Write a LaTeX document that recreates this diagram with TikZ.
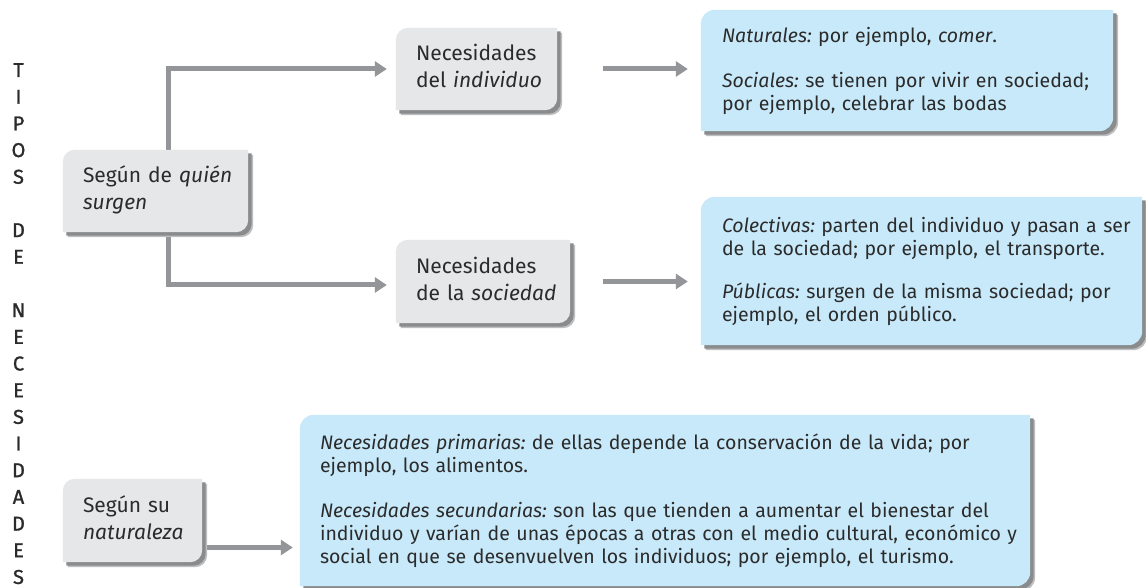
\documentclass[tikz,border=0pt]{standalone}
\usepackage{fontspec}
\setmainfont{Fira Sans}
\newfontfamily\medfont{Fira Sans}[FakeBold=1.2]
\usetikzlibrary{arrows.meta}
\definecolor{boxgray}{HTML}{E6E7E8}
\definecolor{boxblue}{HTML}{C8E9F9}
\definecolor{linegray}{HTML}{939598}
\definecolor{shadowdark}{HTML}{8A8B8D}
\definecolor{shadowlight}{HTML}{BDBEC0}
\definecolor{txt}{HTML}{2B2B2B}
\newcommand\jl[1]{\makebox[\dimexpr\hsize-\leftskip\relax][s]{#1}}
\newcommand\dstrut{\rule[-6pt]{0pt}{6pt}}
\pgfdeclarelayer{paper}
\pgfdeclarelayer{lines}
\pgfdeclarelayer{shapes}
\pgfsetlayers{paper,lines,shapes,main}
\tikzset{
  x=1pt, y=1pt,
  graybox/.style={inner xsep=20pt, inner ysep=0pt, align=left, text=txt,
    font=\fontsize{21}{27}\selectfont,
    execute at begin node={\frenchspacing\hyphenpenalty=10000\relax}},
  bluebox/.style={inner ysep=0pt, align=left, text=txt,
    font=\fontsize{19.5}{23}\selectfont,
    execute at begin node={\frenchspacing\hyphenpenalty=10000 \hbadness=10000 \hfuzz=50pt\relax}},
  letters/.style={inner sep=0pt, align=center, text=txt,
    font=\medfont\fontsize{20}{26.68}\selectfont},
  arr/.style={draw=linegray, line width=5pt, -{Triangle[length=12pt,width=15pt]}},
  card/.style 2 args={insert path={
    (#1.south west) -- ([yshift=-#2]#1.north west)
    arc[start angle=180,end angle=90,radius=#2] -- (#1.north east)
    -- ([yshift=#2]#1.south east)
    arc[start angle=0,end angle=-90,radius=#2] -- cycle}}
}
\begin{document}
\begin{tikzpicture}
\useasboundingbox (0,0) rectangle (1146,588);
\begin{pgfonlayer}{paper}
\fill[white] (0,0) rectangle (1146,588);
\end{pgfonlayer}

% left vertical title
\node[letters, anchor=north] (tipos) at (18.5,525)
  {T\\I\\P\\O\\S\\\mbox{}\\D\\E\\\mbox{}\\N\\E\\C\\E\\S\\I\\D\\A\\D\\E\\S};

% gray boxes
\node[graybox, minimum width=185, minimum height=82, text width=145] (quien) at (155.5,397)
  {\mbox{Según de \textit{quién}}\\\textit{surgen}\dstrut};
\node[graybox, minimum width=161, minimum height=82, text width=121] (ind) at (476.5,519)
  {Necesidades\\\mbox{del \textit{individuo}}\dstrut};
\node[graybox, minimum width=174, minimum height=83, text width=134] (soc) at (483,306.5)
  {Necesidades\\\mbox{de la \textit{sociedad}}\dstrut};
\node[graybox, minimum width=139, minimum height=83, text width=99] (nat) at (132.5,67.5)
  {\mbox{Según su}\\\textit{naturaleza}\dstrut};

% blue boxes
\node[bluebox, inner xsep=21pt, minimum width=412, minimum height=121, text width=370] (b1) at (907,517.5)
  {\textit{Naturales:} por ejemplo, \textit{comer}.\\[22pt]
   \jl{\textit{Sociales:} se tienen por vivir en sociedad;}\\
   por ejemplo, celebrar las bodas};
\node[bluebox, inner xsep=13pt, minimum width=441, minimum height=148, text width=415,
      execute at begin node={\leftskip=8pt\relax}] (b2) at (921.5,317)
  {\jl{\textit{Colectivas:} parten del individuo y pasan a ser}\\
   de la sociedad; por ejemplo, el transporte.\\[20pt]
   \jl{\textit{Públicas:} surgen de la misma sociedad; por}\\
   ejemplo, el orden público.};
\node[bluebox, inner xsep=20pt, minimum width=730, minimum height=171, text width=690] (b3) at (665,87.5)
  {\jl{\textit{Necesidades primarias:} de ellas depende la conservación de la vida; por}\\
   ejemplo, los alimentos.\\[22pt]
   \jl{\textit{Necesidades secundarias:} son las que tienden a aumentar el bienestar del}\\
   \jl{individuo y varían de unas épocas a otras con el medio cultural, económico y}\\
   social en que se desenvuelven los individuos; por ejemplo, el turismo.};

% connectors
\begin{pgfonlayer}{lines}
\draw[arr, shorten >=9pt] ([xshift=12.5]quien.north) |- (ind.west);
\draw[arr, shorten >=9pt] ([xshift=12.5]quien.south) |- ([yshift=-3.5]soc.west);
\draw[arr, shorten <=46pt, shorten >=13pt] (ind.east) -- (ind.east -| b1.west);
\draw[arr, shorten <=33pt, shorten >=13pt] (soc.east) -- (soc.east -| b2.west);
\draw[arr, shorten >=7pt] ([yshift=-27]nat.east) -- ([yshift=-27]nat.east -| b3.west);
\end{pgfonlayer}

% shapes with shadows
\begin{pgfonlayer}{shapes}
\foreach \n/\r/\c in {quien/12/boxgray, ind/12/boxgray, soc/12/boxgray, nat/12/boxgray,
                      b1/14/boxblue, b2/14/boxblue, b3/14/boxblue}{
  \fill[shadowlight, transform canvas={shift={(5,-5)}}] [card={\n}{\r}];
  \fill[shadowdark, transform canvas={shift={(3.5,-3.5)}}] [card={\n}{\r}];
  \fill[\c] [card={\n}{\r}];
}
\end{pgfonlayer}
\end{tikzpicture}
\end{document}
